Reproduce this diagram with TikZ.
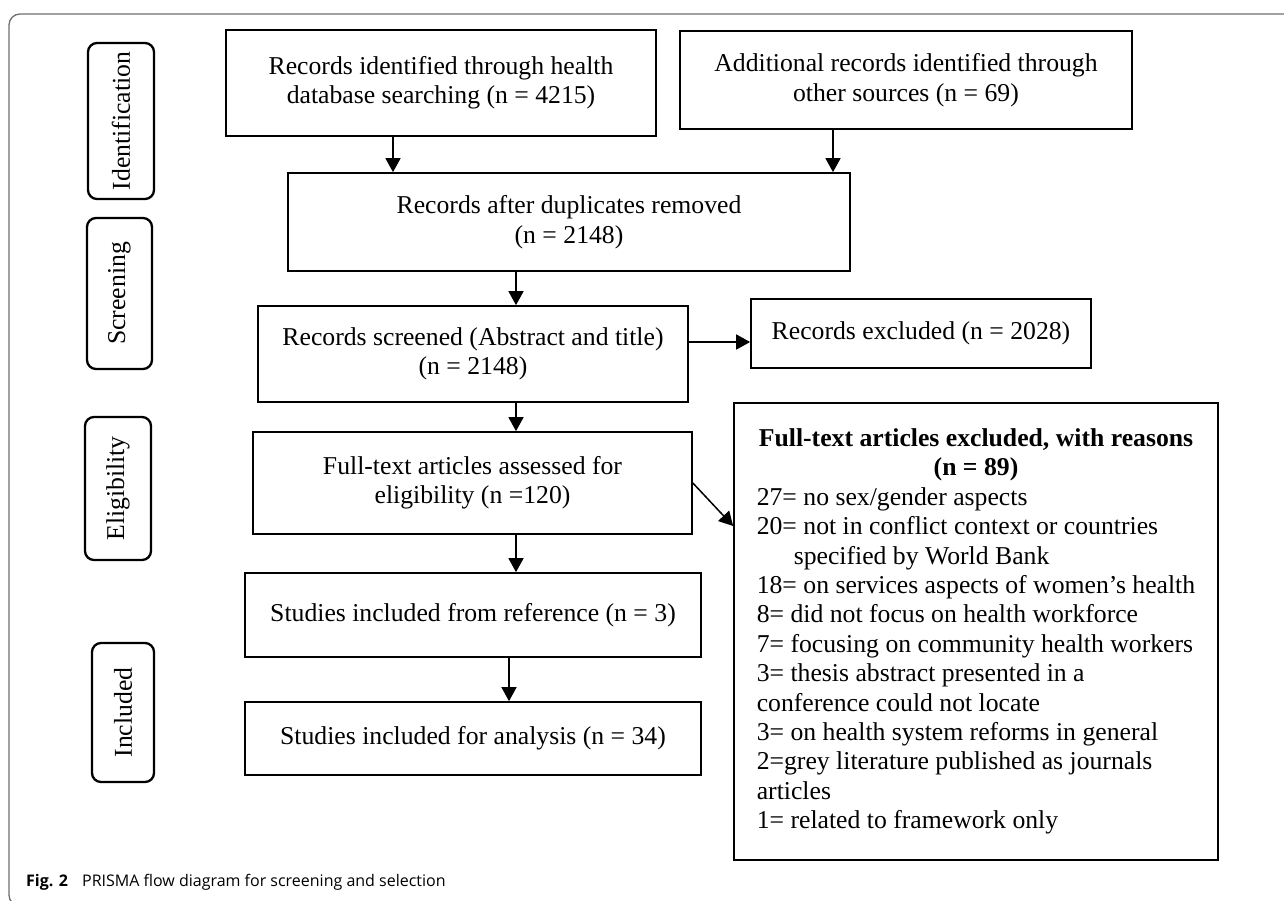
\documentclass[tikz,border=0pt]{standalone}
\usepackage{fontspec}
\setmainfont{Liberation Serif}
\newfontfamily\capfont{Open Sans}
\usetikzlibrary{arrows.meta,positioning,calc}
\definecolor{framegray}{RGB}{110,110,110}
\newlength\exclw
\tikzset{
  bx/.style={draw=black,line width=1.7pt,align=center,inner sep=0pt,
             font=\fontsize{25.7}{29.4}\selectfont},
  stage/.style={draw=black,line width=2.3pt,rounded corners=9pt,rotate=90,
             inner sep=0pt,font=\fontsize{25.7}{29.4}\selectfont},
  ar/.style={-{Triangle[length=14pt,width=15pt]},line width=1.5pt},
}

\begin{document}
{\fontsize{25.7}{29.4}\selectfont
 \settowidth\exclw{18= on services aspects of women’s health}\global\exclw=\exclw}
\begin{tikzpicture}[x=1pt,y=-1pt]
  \useasboundingbox (0,0) rectangle (1284,900);
  % frame of the figure
  \draw[framegray,line width=1.3pt,rounded corners=11pt]
    (1290,14) -- (9,14) -- (9,906) -- (60,906);
  % stages on the left
  \node[stage,minimum width=156,minimum height=66] (sid) at (121,121) {Identification};
  \node[stage,minimum width=151,minimum height=65] (sscr) at (119.5,293.5) {Screening};
  \node[stage,minimum width=143,minimum height=66] (selig) at (118,488.5) {Eligibility};
  \node[stage,minimum width=139,minimum height=62] (sincl) at (123,712.5) {Included};
  % flow boxes
  \node[bx,minimum width=430,minimum height=106] (dbrec) at (441,83)
    {Records identified through health\\ database searching (n = 4215)};
  \node[bx,minimum width=452,minimum height=98] (othrec) at (906,80)
    {Additional records identified through\\ other sources (n = 69)};
  \node[bx,minimum width=562,minimum height=98] (dedup) at (569,222)
    {Records after duplicates removed\\ (n = 2148)};
  \node[bx,minimum width=430,minimum height=96] (screen) at (473,354)
    {Records screened (Abstract and title)\\ (n = 2148)};
  \node[bx,minimum width=340,minimum height=69] (screxcl) at (921,333.5)
    {Records excluded (n = 2028)};
  \node[bx,minimum width=439,minimum height=102] (fulltext) at (472.5,483)
    {Full-text articles assessed for\\ eligibility (n =120)};
  \node[bx,minimum width=484,minimum height=457,align=left]
    (ftexcl) at (976,631.5)
    {\makebox[\exclw][c]{\bfseries Full-text articles excluded, with reasons}\\
     \makebox[\exclw][c]{\bfseries (n = 89)}\\
     27= no sex/gender aspects\\
     20= not in conflict context or countries\\
     \hspace*{37pt}specified by World Bank\\
     18= on services aspects of women’s health\\
     8= did not focus on health workforce\\
     7= focusing on community health workers\\
     3= thesis abstract presented in a\\
     conference could not locate\\
     3= on health system reforms in general\\
     2=grey literature published as journals\\
     articles\\
     1= related to framework only};
  \node[bx,minimum width=456,minimum height=84] (fromref) at (473,615)
    {Studies included from reference (n = 3)};
  \node[bx,minimum width=456,minimum height=73] (analysis) at (473,738.5)
    {Studies included for analysis (n = 34)};
  % arrows
  \draw[ar] ([xshift=-48pt]dbrec.south) -- ([xshift=-48pt]dbrec.south |- dedup.north);
  \draw[ar] ([xshift=-73pt]othrec.south) -- ([xshift=-73pt]othrec.south |- dedup.north);
  \draw[ar] ([xshift=-53pt]dedup.south) -- ([xshift=-53pt]dedup.south |- screen.north);
  \draw[ar] ([yshift=12pt]screen.east) -- ([yshift=12pt]screen.east -| screxcl.west);
  \draw[ar] ([xshift=43pt]screen.south) -- ([xshift=43pt]screen.south |- fulltext.north);
  \draw[ar] (fulltext.east) -- ([yshift=105.5pt]ftexcl.west);
  \draw[ar] ([xshift=43.5pt]fulltext.south) -- ([xshift=43.5pt]fulltext.south |- fromref.north);
  \draw[ar] ([xshift=36pt]fromref.south) -- ([xshift=36pt]fromref.south |- analysis.north);
  % caption
  \node[anchor=base west,inner sep=0pt,font=\capfont\fontsize{16}{19}\selectfont]
    (cap) at (26,886) {\textbf{Fig. 2}\hspace{14pt}PRISMA flow diagram for screening and selection};
\end{tikzpicture}
\end{document}
